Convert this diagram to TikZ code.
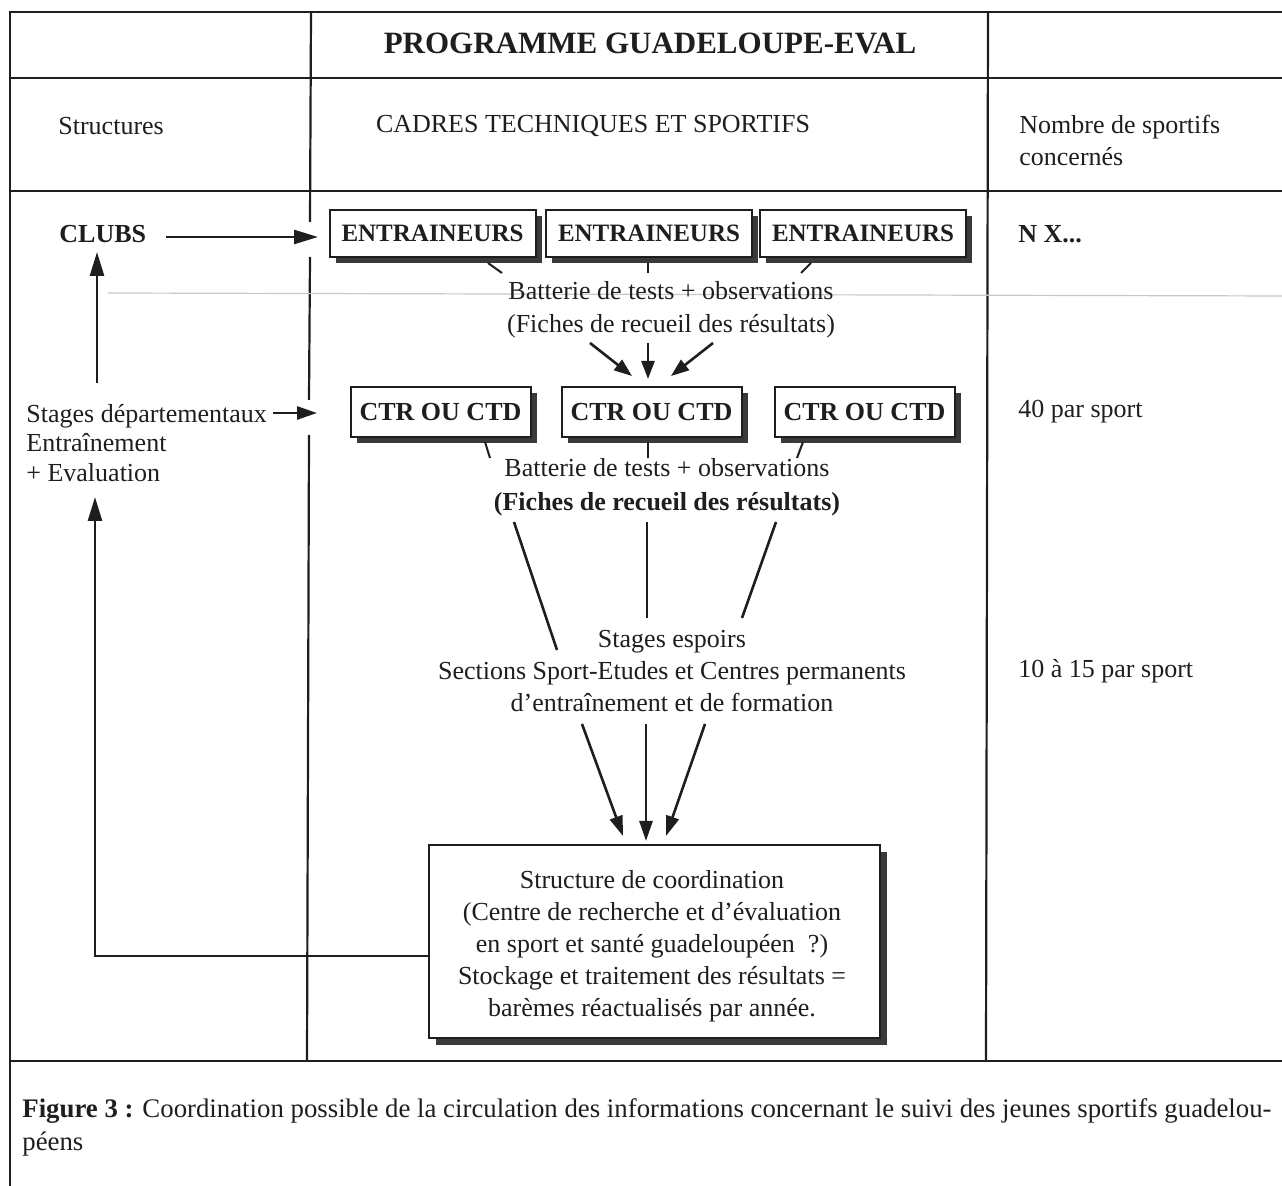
\documentclass[tikz,border=0pt]{standalone}
\usepackage{fontspec}
\setmainfont{Liberation Serif}
\usetikzlibrary{arrows.meta,shadows}
\definecolor{ink}{HTML}{1E1E1E}
\definecolor{shade}{HTML}{3A3A3A}
\definecolor{faint}{HTML}{C8C8C8}
\begin{document}
\begin{tikzpicture}[x=0.5pt,y=-0.5pt,
  rule/.style={line width=1.1pt, draw=ink},
  txt/.style={inner sep=0pt, text=ink, font=\fontsize{13}{16}\selectfont},
  bold/.style={inner sep=0pt, text=ink, font=\bfseries\fontsize{13}{16}\selectfont},
  boxshadow/.style={drop shadow={shadow xshift=3pt, shadow yshift=-3pt, fill=shade, opacity=1}},
  entbox/.style={draw=ink, line width=1pt, fill=white, inner sep=0pt,
    minimum width=103pt, minimum height=23.5pt, text=ink,
    font=\bfseries\fontsize{12.5}{15}\selectfont, boxshadow},
  ctrbox/.style={draw=ink, line width=1pt, fill=white, inner sep=0pt,
    minimum width=90pt, minimum height=25pt, text=ink,
    font=\bfseries\fontsize{13}{15}\selectfont, boxshadow},
  coordbox/.style={draw=ink, line width=1pt, fill=white, inner sep=0pt,
    minimum width=225.5pt, minimum height=96.5pt,
    drop shadow={shadow xshift=3.5pt, shadow yshift=-3.5pt, fill=shade, opacity=1}},
  stub/.style={line width=1pt, draw=ink},
  bigarr/.style={line width=1.3pt, draw=ink, -{Triangle[length=12pt,width=7pt]}},
  midarr/.style={line width=1.3pt, draw=ink, -{Triangle[length=10pt,width=6.5pt]}},
  smallarr/.style={line width=1.3pt, draw=ink, -{Triangle[length=9pt,width=6.5pt]}},
  plain/.style={line width=1.3pt, draw=ink}
]
\useasboundingbox (0,0) rectangle (1282,1186);

% ---- table frame ----
\draw[rule] (10,1186) -- (10,12) -- (1282,12);
\draw[rule] (10,78) -- (1282,78);
\draw[rule] (10,191) -- (1282,191);
\draw[rule] (10,1061) -- (1282,1061);
% first column rule, broken where the arrows cross it
\draw[rule] (311,12) -- (310,222);
\draw[rule] (310,257) -- (309,400);
\draw[rule] (309,435) -- (307,1061);
% last column rule
\draw[rule] (988,12) -- (986,1061);
% faint ruling behind the first test line
\draw[faint, line width=0.6pt] (108,293) -- (1282,296);

% ---- headings ----
\node[inner sep=0pt, text=ink, font=\bfseries\fontsize{15.5}{18}\selectfont] (titre) at (650,43) {PROGRAMME GUADELOUPE-EVAL};
\node[txt, anchor=west] (structures) at (58,126) {Structures};
\node[txt] (cadres) at (593,126) {CADRES TECHNIQUES ET SPORTIFS};
\node[txt, anchor=west, align=left] (nombre) at (1019,140) {Nombre de sportifs\\concernés};

% ---- row 1 : clubs and coaches ----
\node[bold, anchor=west] (clubs) at (59,234) {CLUBS};
\node[entbox] (ent1) at (432.5,233.5) {ENTRAINEURS};
\node[entbox] (ent2) at (649,233.5) {ENTRAINEURS};
\node[entbox] (ent3) at (863,233.5) {ENTRAINEURS};
\node[bold, anchor=west] (nx) at (1018,234) {N X...};

\coordinate (clubsA) at (166,237);
\coordinate (clubsB) at (318,237);
\draw[bigarr] (clubsA) -- (clubsB);

\coordinate (e1a) at (488,263); \coordinate (e1b) at (502,273);
\coordinate (e2a) at (648,263); \coordinate (e2b) at (648,273);
\coordinate (e3a) at (811,263); \coordinate (e3b) at (801,273);
\draw[stub] (e1a) -- (e1b);
\draw[stub] (e2a) -- (e2b);
\draw[stub] (e3a) -- (e3b);

\node[txt, align=center, font=\fontsize{13}{16.5}\selectfont] (bat1) at (671,310) {Batterie de tests + observations\\(Fiches de recueil des résultats)};

\coordinate (a1s) at (590,343); \coordinate (a1e) at (632,376);
\coordinate (a2s) at (648,343); \coordinate (a2e) at (648,379);
\coordinate (a3s) at (713,343); \coordinate (a3e) at (671,376);
\draw[smallarr] (a1s) -- (a1e);
\draw[smallarr] (a2s) -- (a2e);
\draw[smallarr] (a3s) -- (a3e);

% ---- row 2 : departmental courses ----
\node[txt, anchor=west, align=left, font=\fontsize{13}{14.8}\selectfont] (stages) at (26,443) {Stages départementaux\\Entraînement\\+ Evaluation};
\coordinate (sdA) at (273,413);
\coordinate (sdB) at (317,413);
\draw[midarr] (sdA) -- (sdB);

\node[ctrbox] (ctr1) at (440.5,412) {CTR OU CTD};
\node[ctrbox] (ctr2) at (651.5,412) {CTR OU CTD};
\node[ctrbox] (ctr3) at (864.5,412) {CTR OU CTD};
\node[txt, anchor=west] (quarante) at (1018,412) {40 par sport};

\coordinate (c1a) at (485,442); \coordinate (c1b) at (490,458);
\coordinate (c2a) at (648,442); \coordinate (c2b) at (648,458);
\coordinate (c3a) at (803,442); \coordinate (c3b) at (797,458);
\draw[stub] (c1a) -- (c1b);
\draw[stub] (c2a) -- (c2b);
\draw[stub] (c3a) -- (c3b);

\node[inner sep=0pt, text=ink, align=center, font=\fontsize{13}{17}\selectfont] (bat2) at (667,487) {Batterie de tests + observations\\\textbf{(Fiches de recueil des résultats)}};

\coordinate (l1s) at (514,522); \coordinate (l1e) at (557,650);
\coordinate (l2s) at (647,522); \coordinate (l2e) at (647,618);
\coordinate (l3s) at (776,522); \coordinate (l3e) at (742,618);
\draw[plain] (l1s) -- (l1e);
\draw[plain] (l2s) -- (l2e);
\draw[plain] (l3s) -- (l3e);

% ---- row 3 : regional training ----
\node[txt, align=center, font=\fontsize{13}{16.2}\selectfont] (espoirs) at (672,671) {Stages espoirs\\Sections Sport-Etudes et Centres permanents\\d'entraînement et de formation};
\node[txt, anchor=west] (dix) at (1018,671) {10 à 15 par sport};

\coordinate (b1s) at (582,724); \coordinate (b1e) at (623,836);
\coordinate (b2s) at (646,724); \coordinate (b2e) at (646,841);
\coordinate (b3s) at (705,724); \coordinate (b3e) at (666,836);
\draw[midarr] (b1s) -- (b1e);
\draw[midarr] (b2s) -- (b2e);
\draw[midarr] (b3s) -- (b3e);

% ---- coordination structure and feedback ----
\node[coordbox] (coord) at (654.5,941.5) {};
\node[txt, align=center, font=\fontsize{13}{16}\selectfont] (coordtext) at (652,946) {Structure de coordination\\(Centre de recherche et d'évaluation\\en sport et santé guadeloupéen~~?)\\Stockage et traitement des résultats =\\barèmes réactualisés par année.};

\coordinate (loopCorner) at (95,956);
\coordinate (loopTip) at (95,497);
\draw[bigarr] (coord.west |- 0,956) -- (loopCorner) -- (loopTip);

\coordinate (upA) at (97,383);
\coordinate (upB) at (97,252);
\draw[bigarr] (upA) -- (upB);

% ---- caption ----
\node[txt, anchor=west, align=left, font=\fontsize{13.4}{16.5}\selectfont] (legende) at (22,1127) {\textbf{Figure 3 :} Coordination possible de la circulation des informations concernant le suivi des jeunes sportifs guadelou-\\péens};
\end{tikzpicture}
\end{document}
